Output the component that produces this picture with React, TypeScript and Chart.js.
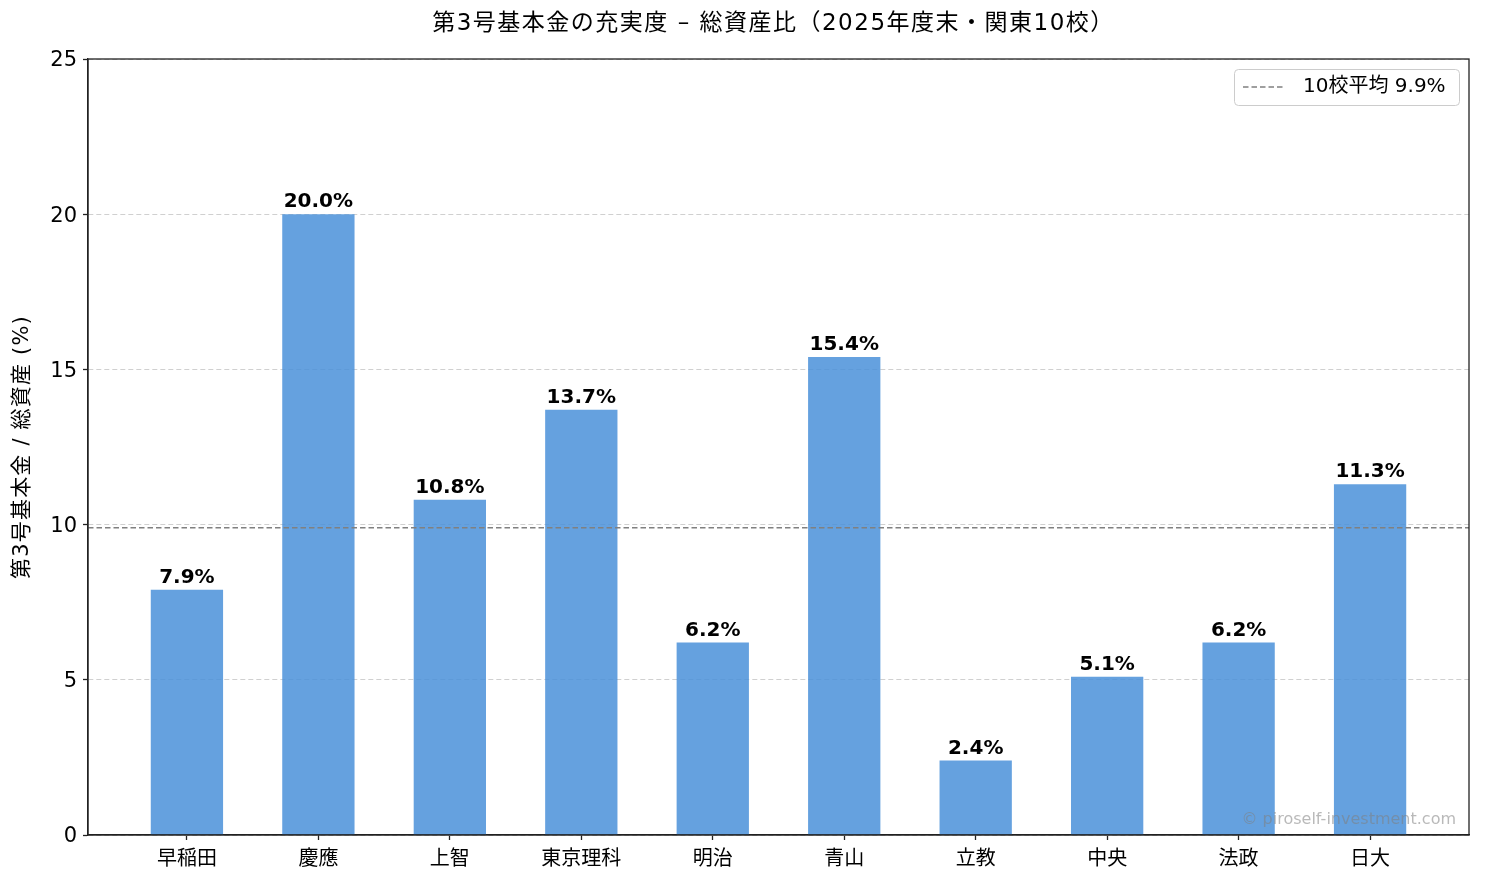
import React, { useEffect, useRef } from "react";
import { Chart, registerables } from "chart.js";

Chart.register(...registerables);

const categories = ["早稲田", "慶應", "上智", "東京理科", "明治", "青山", "立教", "中央", "法政", "日大"];
const ratios = [7.9, 20.0, 10.8, 13.7, 6.2, 15.4, 2.4, 5.1, 6.2, 11.3];
const averageValue = 9.9;
const yTicks = [0, 5, 10, 15, 20, 25];

const titleText = "第3号基本金の充実度 – 総資産比（2025年度末・関東10校）";
const yTitle = "第3号基本金 / 総資産 (%)";
const legendText = "10校平均 9.9%";
const watermark = "© piroself-investment.com";

const FONT = '"DejaVu Sans", "Noto Sans CJK JP", sans-serif';
const X_MIN = -0.7525;
const X_MAX = categories.length - 1 + 0.7525;

const decorPlugin = {
  id: "decor",
  afterDatasetsDraw(chart: any) {
    const { ctx, chartArea } = chart;
    const xs = chart.scales.x;
    const ys = chart.scales.y;
    ctx.save();
    // value labels
    ctx.fillStyle = "#000";
    ctx.font = `bold 20px ${FONT}`;
    ctx.textAlign = "center";
    ctx.textBaseline = "alphabetic";
    ratios.forEach((v, i) => {
      ctx.fillText(`${v.toFixed(1)}%`, xs.getPixelForValue(i), ys.getPixelForValue(v) - 7);
    });
    // watermark
    ctx.fillStyle = "rgba(128,128,128,0.55)";
    ctx.font = `16px ${FONT}`;
    ctx.textAlign = "right";
    ctx.fillText(watermark, chartArea.right - 13, chartArea.bottom - 11);
    // legend
    const bx = chartArea.right - 235, by = chartArea.top + 10, bw = 225, bh = 36;
    ctx.fillStyle = "rgba(255,255,255,0.8)";
    ctx.strokeStyle = "#cccccc";
    ctx.lineWidth = 1;
    ctx.beginPath();
    (ctx as any).roundRect(bx + 0.5, by + 0.5, bw, bh, 4);
    ctx.fill();
    ctx.stroke();
    ctx.strokeStyle = "#808080";
    ctx.lineWidth = 1.5;
    ctx.setLineDash([5.5, 3]);
    ctx.beginPath();
    ctx.moveTo(bx + 9, by + 18);
    ctx.lineTo(bx + 49, by + 18);
    ctx.stroke();
    ctx.setLineDash([]);
    ctx.fillStyle = "#000";
    ctx.font = `20px ${FONT}`;
    ctx.textAlign = "left";
    ctx.textBaseline = "middle";
    ctx.fillText(legendText, bx + 69, by + 18);
    // frame
    ctx.strokeStyle = "#222";
    ctx.lineWidth = 1.3;
    ctx.strokeRect(chartArea.left, chartArea.top, chartArea.right - chartArea.left, chartArea.bottom - chartArea.top);
    // title
    ctx.fillStyle = "#000";
    ctx.font = `23px ${FONT}`;
    ctx.textAlign = "center";
    ctx.textBaseline = "middle";
    (ctx as any).letterSpacing = "1.5px";
    ctx.fillText(titleText, (chartArea.left + chartArea.right) / 2 - 5, 24);
    // y axis title
    (ctx as any).letterSpacing = "1.2px";
    ctx.font = `21px ${FONT}`;
    ctx.translate(23, (chartArea.top + chartArea.bottom) / 2);
    ctx.rotate(-Math.PI / 2);
    ctx.fillText(yTitle, 0, 0);
    ctx.restore();
  },
};

export default function App() {
  const ref = useRef<HTMLCanvasElement>(null);
  useEffect(() => {
    document.body.style.margin = "0";
    const canvas = ref.current!;
    const chart = new Chart(canvas, {
      type: "bar",
      data: {
        datasets: [
          {
            type: "bar",
            label: "ratio",
            data: ratios.map((v, i) => ({ x: i, y: v })),
            backgroundColor: "rgba(74,144,217,0.85)",
            borderWidth: 0,
            barPercentage: 0.55,
            categoryPercentage: 1,
            order: 2,
          },
          {
            type: "line",
            label: legendText,
            data: [
              { x: X_MIN, y: averageValue },
              { x: X_MAX, y: averageValue },
            ],
            borderColor: "#808080",
            borderWidth: 1.5,
            borderDash: [5.5, 3],
            pointRadius: 0,
            fill: false,
            order: 1,
          } as any,
        ],
      },
      options: {
        animation: false,
        responsive: false,
        devicePixelRatio: 1,
        layout: { padding: { left: 0, right: 16, top: 59, bottom: 0 } },
        plugins: {
          legend: { display: false },
          title: { display: false },
          tooltip: { enabled: false },
        },
        scales: {
          x: {
            type: "linear",
            min: X_MIN,
            max: X_MAX,
            offset: false,
            afterBuildTicks: (s: any) => {
              s.ticks = categories.map((_, i) => ({ value: i }));
            },
            afterFit: (s: any) => {
              s.height = 50;
            },
            ticks: {
              autoSkip: false,
              maxRotation: 0,
              color: "#000",
              font: { family: FONT, size: 20 },
              padding: 8,
              callback: (v: any) => categories[v as number] ?? "",
            },
            grid: {
              offset: false,
              drawOnChartArea: false,
              drawTicks: true,
              tickLength: 5,
              tickColor: "#222",
              tickWidth: 1.3,
            },
            border: { display: true, color: "#222", width: 1.3 },
          },
          y: {
            min: 0,
            max: 25,
            afterBuildTicks: (s: any) => {
              s.ticks = yTicks.map((v) => ({ value: v }));
            },
            afterFit: (s: any) => {
              s.width = 88;
            },
            ticks: {
              color: "#000",
              font: { family: FONT, size: 21 },
              padding: 6,
              labelOffset: 2,
            },
            grid: {
              color: "#d0d0d0",
              lineWidth: 1,
              drawTicks: true,
              tickLength: 5,
              tickColor: "#222",
              tickWidth: 1.3,
              tickBorderDash: [],
            },
            border: { display: true, color: "#222", width: 1.3, dash: [5, 3] },
            title: { display: false },
          },
        },
      },
      plugins: [decorPlugin],
    } as any);
    return () => chart.destroy();
  }, []);
  return (
    <div style={{ width: 1485, height: 885, background: "#fff" }}>
      <canvas ref={ref} width={1485} height={885} style={{ display: "block" }} />
    </div>
  );
}
